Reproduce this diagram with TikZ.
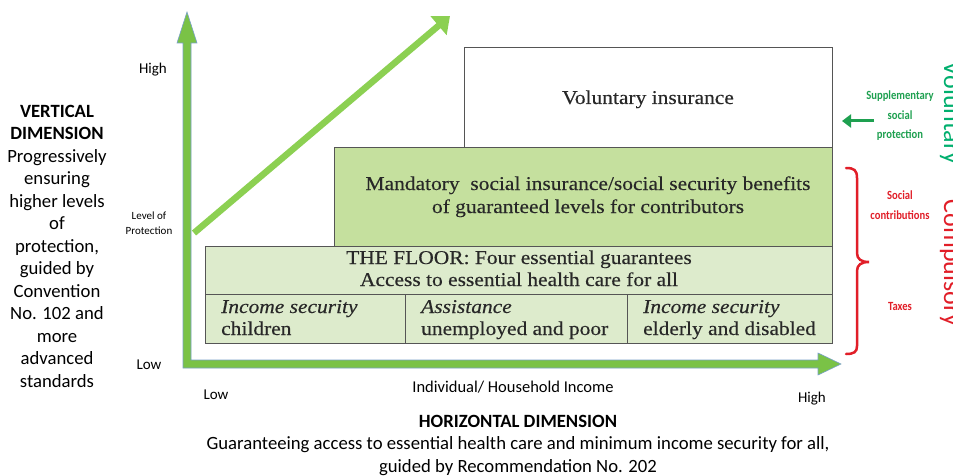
\documentclass[tikz,border=0pt]{standalone}
\usepackage{fontspec}
\setmainfont{Liberation Serif}
\newfontfamily\calibri{Carlito}
\newfontfamily\calcond[FakeStretch=0.85]{Carlito}
\newfontfamily\boxfont[FakeStretch=1.1,FakeBold=0.3]{Liberation Serif}
\usetikzlibrary{arrows.meta}
\definecolor{axisgreen}{RGB}{122,194,70}
\definecolor{axisedge}{RGB}{120,160,200}
\definecolor{diaggreen}{RGB}{140,208,82}
\definecolor{mandfill}{RGB}{197,224,158}
\definecolor{floorfill}{RGB}{221,235,204}
\definecolor{boxedge}{RGB}{85,85,85}
\definecolor{boxtext}{RGB}{40,40,40}
\definecolor{suppgreen}{RGB}{30,160,80}
\definecolor{volgreen}{RGB}{0,175,110}
\definecolor{compred}{RGB}{225,30,40}
\tikzset{
  boxshape/.style={draw=boxedge, line width=1pt},
  boxtxt/.style={font=\boxfont\fontsize{19.5}{24}\selectfont, text=boxtext, inner sep=0pt},
  celltxt/.style={boxtxt, anchor=base west, align=left},
  sanslabel/.style={font=\calibri\fontsize{15}{18}\selectfont, inner sep=0pt},
  sansbig/.style={font=\calibri\fontsize{18.7}{22.5}\selectfont, inner sep=0pt, align=center},
  smalllabel/.style={font=\calibri\fontsize{11}{15}\selectfont, inner sep=0pt, align=center},
  rightlabel/.style={font=\calcond\bfseries\fontsize{12.5}{19.5}\selectfont, inner sep=0pt, align=center},
  sidetitle/.style={font=\calibri\fontsize{26}{30}\selectfont, inner sep=0pt, rotate=-90, anchor=base}
}
\begin{document}
\begin{tikzpicture}[x=1pt,y=-1pt]
\useasboundingbox (0,0) rectangle (953,476);
\fill[white] (0,0) rectangle (953,476);

% axes (L-shaped block arrows)
\filldraw[fill=axisgreen, draw=axisedge, line width=0.6pt]
  (183,368) -- (183,43) -- (177,43) -- (187,12) -- (197,43) -- (191,43)
  -- (191,360) -- (818,360) -- (818,353) -- (841,364) -- (818,375) -- (818,368) -- cycle;

% diagonal arrow
\coordinate (dstart) at (194,233);
\coordinate (dend) at (450,16);
\draw[diaggreen, line width=6.5pt, -{Triangle[length=15pt, width=24pt]}] (dstart) -- (dend);

% boxes
\path[boxshape, fill=white] (464,48) rectangle (832,148);
\path[boxshape, fill=mandfill] (334,148) rectangle (832,246);
\path[boxshape, fill=floorfill] (205,246) rectangle (832,294);
\path[boxshape, fill=floorfill] (205,294) rectangle (405,343);
\path[boxshape, fill=floorfill] (405,294) rectangle (627,343);
\path[boxshape, fill=floorfill] (627,294) rectangle (832,343);

% box texts
\node[boxtxt, anchor=base] (vol) at (648,104) {Voluntary insurance};
\node[boxtxt, anchor=base] (mand1) at (588,190) {Mandatory\ \ social insurance/social security benefits};
\node[boxtxt, anchor=base] (mand2) at (588,213) {of guaranteed levels for contributors};
\node[boxtxt, anchor=base] (floor1) at (519,264) {THE FLOOR: Four essential guarantees};
\node[boxtxt, anchor=base] (floor2) at (519,286) {Access to essential health care for all};
\node[celltxt] (c1a) at (221,313) {\itshape Income security};
\node[celltxt] (c1b) at (221,335) {children};
\node[celltxt] (c2a) at (421,313) {\itshape Assistance};
\node[celltxt] (c2b) at (421,335) {unemployed and poor};
\node[celltxt] (c3a) at (643,313) {\itshape Income security};
\node[celltxt] (c3b) at (643,335) {elderly and disabled};

% axis labels
\node[sanslabel, anchor=base] (vhigh) at (153,74) {High};
\node[smalllabel, anchor=north] (lop) at (149,212) {Level of\\Protection};
\node[sanslabel, anchor=base] (vlow) at (149,369) {Low};
\node[sanslabel, anchor=base] (hlow) at (216,399) {Low};
\node[sanslabel, anchor=base, font=\calibri\fontsize{16.5}{18}\selectfont] (hinc) at (513,392) {Individual/ Household Income};
\node[sanslabel, anchor=base] (hhigh) at (812,402) {High};

% left dimension text
\node[sansbig, anchor=north] (vdim) at (57,105)
  {\textbf{VERTICAL}\\\textbf{DIMENSION}\\Progressively\\ensuring\\higher levels\\of\\protection,\\guided by\\Convention\\No. 102 and\\more\\advanced\\standards};

% bottom dimension text
\node[sansbig, anchor=north] (hdim) at (518,415)
  {\textbf{HORIZONTAL DIMENSION}\\Guaranteeing access to essential health care and minimum income security for all,\\guided by Recommendation No. 202};

% right side
\coordinate (supS) at (874,121);
\coordinate (supE) at (842,121);
\draw[suppgreen, line width=3pt, -{Triangle[length=9pt, width=13pt]}] (supS) -- (supE);
\node[rightlabel, text=suppgreen, anchor=north] (supp) at (900,91) {Supplementary\\social\\protection};

\draw[compred, line width=2.5pt, line cap=round]
  (846,168) .. controls (854,168) and (857,170) .. (857,178) -- (857,253)
  .. controls (857,259) and (861,262) .. (869,262)
  .. controls (861,262) and (857,265) .. (857,271) -- (857,346)
  .. controls (857,352) and (854,354) .. (846,354);

\node[rightlabel, text=compred, anchor=north] (soc) at (900,191) {Social\\contributions};
\node[rightlabel, text=compred, anchor=north] (tax) at (900,302) {Taxes};

\node[sidetitle, text=volgreen] (volt) at (944,113) {Voluntary};
\node[sidetitle, text=compred] (compt) at (944,263) {Compulsory};
\end{tikzpicture}
\end{document}
